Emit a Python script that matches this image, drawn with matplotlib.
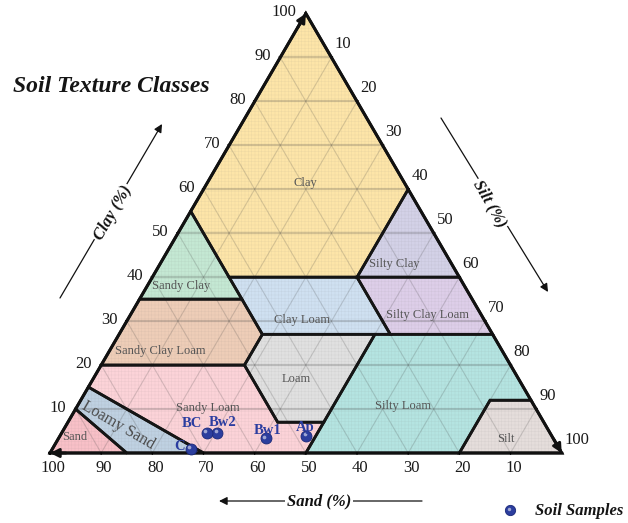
import numpy as np
import matplotlib.pyplot as plt
from matplotlib.patches import Polygon
from matplotlib.transforms import offset_copy

plt.rcParams['font.family'] = ['Liberation Serif', 'DejaVu Serif']
plt.rcParams['hatch.linewidth'] = 0.4

# ---------------------------------------------------------------- data
class_names = ['Clay', 'Silty Clay', 'Sandy Clay', 'Clay Loam', 'Silty Clay Loam',
               'Sandy Clay Loam', 'Loam', 'Silty Loam', 'Sandy Loam', 'Loamy Sand',
               'Sand', 'Silt']
# class boundaries as (sand, silt, clay) corners, USDA scheme
class_vertices = [
    [(0, 0, 100), (45, 0, 55), (45, 15, 40), (20, 40, 40), (0, 40, 60)],
    [(20, 40, 40), (0, 60, 40), (0, 40, 60)],
    [(65, 0, 35), (45, 20, 35), (45, 0, 55)],
    [(45, 28, 27), (20, 53, 27), (20, 40, 40), (45, 15, 40)],
    [(20, 53, 27), (0, 73, 27), (0, 60, 40), (20, 40, 40)],
    [(80, 0, 20), (52, 28, 20), (45, 28, 27), (45, 20, 35), (65, 0, 35)],
    [(43, 50, 7), (52, 41, 7), (52, 28, 20), (45, 28, 27), (23, 50, 27)],
    [(50, 50, 0), (20, 80, 0), (8, 80, 12), (0, 88, 12), (0, 73, 27), (23, 50, 27), (43, 50, 7)],
    [(70, 30, 0), (50, 50, 0), (43, 50, 7), (52, 41, 7), (52, 28, 20), (80, 0, 20), (85, 0, 15)],
    [(85, 15, 0), (70, 30, 0), (85, 0, 15), (90, 0, 10)],
    [(100, 0, 0), (85, 15, 0), (90, 0, 10)],
    [(20, 80, 0), (0, 100, 0), (0, 88, 12), (8, 80, 12)],
]
class_colors = ['#FDE5A8', '#D3D1E7', '#C4E8D3', '#CFE0F1', '#DDCEE9', '#EECDB7',
                '#E0E0E0', '#B4E4E1', '#FCD3D8', '#BFD1E2', '#F8C0C7', '#E5DDDB']
# label anchors as (sand, silt, clay)
class_label_pos = [
    (19.3, 19.3, 61.4), (11.2, 45.7, 43.1), (55.3, 6.6, 38.1), (35.7, 34.1, 30.2),
    (10.6, 58.0, 31.4), (66.9, 9.9, 23.2), (43.5, 39.6, 16.9), (25.7, 63.7, 10.6),
    (64.0, 25.8, 10.2), (83.6, 10.1, 6.3), (93.3, 3.1, 3.6), (9.3, 87.5, 3.2),
]

sample_names = ['Ap', 'Bw1', 'Bw2', 'BC', 'C']
sample_sand = [48.0, 56.1, 65.0, 67.1, 72.0]
sample_silt = [48.1, 40.5, 30.4, 28.3, 27.0]
sample_clay = [3.9, 3.4, 4.6, 4.6, 1.0]

tick_values = [10, 20, 30, 40, 50, 60, 70, 80, 90, 100]

# ---------------------------------------------------------------- canvas
W, H = 628, 523
OX, OY = 50.0, 453.0          # pixel position of the 100 % sand corner
SX, SY = 5.117, 5.075         # pixels per unit

fig = plt.figure(figsize=(W / 100, H / 100), dpi=100)
ax = fig.add_axes([0, 0, 1, 1])
ax.set_xlim(-OX / SX, (W - OX) / SX)
ax.set_ylim(-(H - OY) / SY, OY / SY)
ax.axis('off')

R3 = np.sqrt(3) / 2


def tern(sand, silt, clay):
    silt = np.asarray(silt, float)
    clay = np.asarray(clay, float)
    return silt + clay / 2, clay * R3


def px(x, y):
    return (x - OX) / SX, (OY - y) / SY


# ---------------------------------------------------------------- classes
for verts, col in zip(class_vertices, class_colors):
    xy = np.column_stack(tern(*np.array(verts, float).T))
    ax.add_patch(Polygon(xy, closed=True, facecolor=col, edgecolor='none', zorder=1))
    ax.add_patch(Polygon(xy, closed=True, facecolor='none', hatch='+++++',
                         edgecolor=(0.45, 0.45, 0.45, 0.10), lw=0, zorder=1.5))

# 10 % grid
for v in range(10, 100, 10):
    x, y = tern([100 - v, 0], [0, 100 - v], [v, v])
    ax.plot(x, y, color=(0.25, 0.25, 0.25, 0.22), lw=1.6, zorder=2)
    x, y = tern([v, v], [100 - v, 0], [0, 100 - v])
    ax.plot(x, y, color=(0.25, 0.25, 0.25, 0.20), lw=0.8, zorder=2)
    x, y = tern([100 - v, 0], [v, v], [0, 100 - v])
    ax.plot(x, y, color=(0.25, 0.25, 0.25, 0.20), lw=0.8, zorder=2)

for verts in class_vertices:
    xy = np.column_stack(tern(*np.array(verts, float).T))
    ax.add_patch(Polygon(xy, closed=True, facecolor='none', edgecolor='#151515',
                         lw=2.0, joinstyle='miter', zorder=3))

# outer triangle
tx, ty = tern([100, 0, 0, 100], [0, 100, 0, 0], [0, 0, 100, 0])
ax.plot(tx, ty, color='#111111', lw=2.2, zorder=4, solid_joinstyle='miter')

# ---------------------------------------------------------------- class labels
for name, pos in zip(class_names, class_label_pos):
    x, y = tern(*pos)
    if name == 'Loamy Sand':
        ax.text(x, y, name, fontsize=11.5, color='#4a4a4a', rotation=-30,
                ha='center', va='center', rotation_mode='anchor', zorder=5)
    else:
        ax.text(x, y, name, fontsize=9, color='#555555', ha='center',
                va='center', zorder=5)

# ---------------------------------------------------------------- ticks and tick labels
tick_len = 4
for v in tick_values:
    # sand along the bottom edge
    x, y = tern(v, 100 - v, 0)
    ax.annotate('', xy=(x, y), xytext=(0, -tick_len), textcoords='offset pixels',
                arrowprops=dict(arrowstyle='-', lw=1, color='k'), zorder=4)
    ax.annotate(str(v), (x, y), xytext=(3, -15), textcoords='offset pixels',
                ha='center', va='center', fontsize=12, color='#1a1a1a')
    # clay along the left edge
    x, y = tern(100 - v, 0, v)
    ax.annotate('', xy=(x, y), xytext=(-tick_len * 0.87, tick_len * 0.5),
                textcoords='offset pixels', arrowprops=dict(arrowstyle='-', lw=1, color='k'))
    ax.annotate(str(v), (x, y), xytext=(-9, 1), textcoords='offset pixels',
                ha='right', va='center', fontsize=12, color='#1a1a1a')
    # silt along the right edge
    x, y = tern(0, v, 100 - v)
    ax.annotate('', xy=(x, y), xytext=(tick_len * 0.87, tick_len * 0.5),
                textcoords='offset pixels', arrowprops=dict(arrowstyle='-', lw=1, color='k'))
    ax.annotate(str(v), (x, y), xytext=(3, 13), textcoords='offset pixels',
                ha='left', va='center', fontsize=12, color='#1a1a1a')

# arrow heads at the three corners, tail offset given in pixels (right, up)
corner_heads = [((100, 0, 0), (16, 0)), ((0, 0, 100), (-8, -14)), ((0, 100, 0), (-8, 14))]
for comp, d in corner_heads:
    x, y = tern(*comp)
    ax.annotate('', xy=(x, y), xytext=(x + d[0] / SX, y + d[1] / SY),
                arrowprops=dict(arrowstyle='-|>', color='#111111', lw=2,
                                mutation_scale=13, shrinkA=0, shrinkB=0), zorder=6)

# ---------------------------------------------------------------- axis titles
axis_titles = [('Clay (%)', (60, 298), (162, 124), (113, 213), 60),
               ('Silt (%)', (441, 118), (548, 292), (490, 204), -60),
               ('Sand (%)', (422, 501), (219, 501), (319, 501), 0)]
for label, p0, p1, pc, rot in axis_titles:
    ax.annotate('', xy=px(*p1), xytext=px(*p0),
                arrowprops=dict(arrowstyle='-|>', color='#111111', lw=0.9,
                                mutation_scale=12, shrinkA=0, shrinkB=0))
    ax.text(*px(*pc), label, fontsize=12, fontweight='bold', fontstyle='italic',
            rotation=rot, ha='center', va='center', rotation_mode='anchor',
            color='#111111',
            bbox=dict(boxstyle='square,pad=0.1', facecolor='white', edgecolor='none'))

ax.text(*px(13, 86), 'Soil Texture Classes', fontsize=17, fontweight='bold',
        fontstyle='italic', ha='left', va='center', color='#151515')

# ---------------------------------------------------------------- samples
sx, sy = tern(sample_sand, sample_silt, sample_clay)
ax.scatter(sx, sy, s=62, color='#2C3E9E', edgecolor='#1A2878', lw=0.6, zorder=8)
hl = offset_copy(ax.transData, fig=fig, x=-1.5, y=1.5, units='dots')
ax.scatter(sx, sy, s=7, color='white', alpha=0.55, lw=0, zorder=9, transform=hl)

label_offsets = {'Ap': (-1, 8, 'center'), 'Bw1': (2, 8, 'center'),
                 'Bw2': (5, 10, 'center'), 'BC': (-15, 9, 'center'),
                 'C': (-6, 2, 'right')}
for name, x, y in zip(sample_names, sx, sy):
    dx, dy, ha = label_offsets[name]
    ax.annotate(name, (x, y), xytext=(dx, dy), textcoords='offset pixels',
                ha=ha, va='center', fontsize=10.5, fontweight='bold',
                color='#2B3DA0', zorder=9)

# legend
lx, ly = px(510, 510)
ax.scatter([lx], [ly], s=55, color='#2C3E9E', edgecolor='#1A2878', lw=0.6, zorder=8)
ax.scatter([lx], [ly], s=6, color='white', alpha=0.55, lw=0, zorder=9, transform=hl)
ax.text(*px(535, 511), 'Soil Samples', fontsize=12, fontweight='bold',
        fontstyle='italic', ha='left', va='center', color='#151515')

fig.savefig('out.png', dpi=100)
